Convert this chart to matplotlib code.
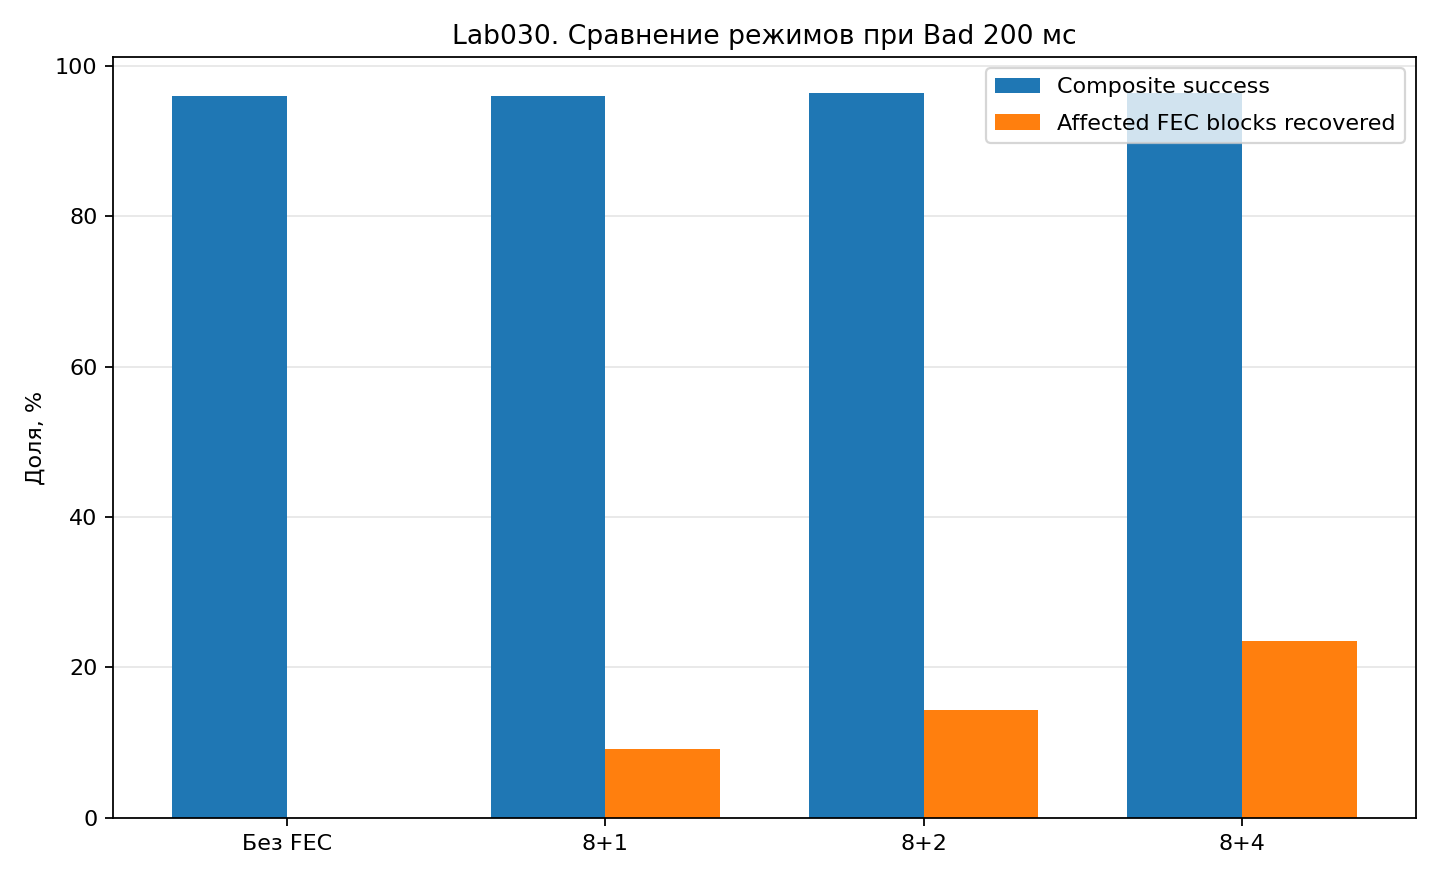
import matplotlib
matplotlib.use("Agg")
import matplotlib.pyplot as plt
import numpy as np

modes = ["Без FEC", "8+1", "8+2", "8+4"]
composite = [96.0, 95.9, 96.3, 96.3]
recovered = [0.0, 9.2, 14.3, 23.5]

x = np.arange(len(modes))
w = 0.36

fig, ax = plt.subplots(figsize=(9, 5.5), dpi=160)
ax.bar(x - w / 2, composite, w, label="Composite success")
ax.bar(x + w / 2, recovered, w, label="Affected FEC blocks recovered")
ax.set_xticks(x)
ax.set_xticklabels(modes)
ax.set_ylabel("Доля, %")
ax.set_title("Lab030. Сравнение режимов при Bad 200 мс")
ax.grid(axis="y", alpha=0.3)
ax.set_axisbelow(True)
ax.legend(loc="upper right", labelspacing=0.75)
fig.subplots_adjust(left=0.0785, right=0.9833, bottom=0.0705, top=0.935)
fig.savefig("out.png", dpi=160)
